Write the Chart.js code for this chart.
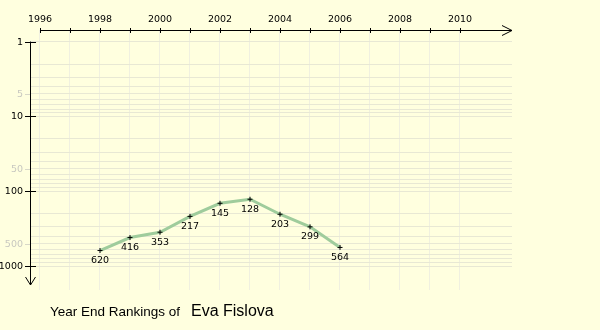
<!DOCTYPE html>
<html>
<head>
<meta charset="utf-8">
<script src="https://cdn.jsdelivr.net/npm/chart.js@4"></script>
<style>
  html, body { margin: 0; padding: 0; background: #ffffdf; }
  #wrap { width: 600px; height: 330px; }
</style>
</head>
<body>
<div id="wrap"><canvas id="rankChart" width="600" height="330"></canvas></div>
<script>
// year end rankings
const years = [1998, 1999, 2000, 2001, 2002, 2003, 2004, 2005, 2006];
const rankings = [620, 416, 353, 217, 145, 128, 203, 299, 564];

// axis ticks
const yearTicks = [1996, 1997, 1998, 1999, 2000, 2001, 2002, 2003, 2004, 2005, 2006, 2007, 2008, 2009, 2010];
const yearLabels = [1996, 1998, 2000, 2002, 2004, 2006, 2008, 2010];
const rankGrid = [1, 2, 3, 4, 5, 6, 7, 8, 9, 10, 20, 30, 40, 50, 60, 70, 80, 90,
  100, 200, 300, 400, 500, 600, 700, 800, 900, 1000];
const rankMajor = [1, 10, 100, 1000];
const rankMinor = [5, 50, 500];

const playerName = 'Eva Fislova';
const smallFont = '9.5px "DejaVu Sans"';

const axesPlugin = {
  id: 'arrowAxes',
  beforeDatasetsDraw(chart) {
    const ctx = chart.ctx;
    const xs = chart.scales.x;
    const ys = chart.scales.y;
    const area = chart.chartArea;
    const axisY = area.top;
    const axisX = area.left;
    ctx.save();
    ctx.strokeStyle = '#000';
    ctx.fillStyle = '#000';
    ctx.lineWidth = 1;

    // top x axis with arrow
    const x0 = xs.getPixelForValue(yearTicks[0]);
    ctx.beginPath();
    ctx.moveTo(x0, axisY + 0.5);
    ctx.lineTo(area.right, axisY + 0.5);
    ctx.moveTo(area.right - 10, axisY - 4.5);
    ctx.lineTo(area.right, axisY + 0.5);
    ctx.lineTo(area.right - 10, axisY + 5.5);
    ctx.stroke();
    yearTicks.forEach(v => {
      const px = Math.round(xs.getPixelForValue(v)) + 0.5;
      ctx.beginPath();
      ctx.moveTo(px, axisY - 2);
      ctx.lineTo(px, axisY + 3);
      ctx.stroke();
    });
    ctx.font = smallFont;
    ctx.textAlign = 'center';
    ctx.textBaseline = 'middle';
    yearLabels.forEach(v => {
      ctx.fillText(String(v), xs.getPixelForValue(v), axisY - 10);
    });

    // left y axis pointing down
    const y0 = ys.getPixelForValue(1);
    ctx.beginPath();
    ctx.moveTo(axisX + 0.5, y0);
    ctx.lineTo(axisX + 0.5, area.bottom - 5);
    ctx.moveTo(axisX - 4.5, area.bottom - 13);
    ctx.lineTo(axisX + 0.5, area.bottom - 5);
    ctx.lineTo(axisX + 5.5, area.bottom - 13);
    ctx.stroke();
    ctx.textAlign = 'right';
    rankMajor.forEach(v => {
      const py = Math.round(ys.getPixelForValue(v)) + 0.5;
      ctx.beginPath();
      ctx.moveTo(axisX - 5, py);
      ctx.lineTo(axisX + 6, py);
      ctx.stroke();
      ctx.fillStyle = '#000';
      ctx.fillText(String(v), axisX - 7, py);
    });
    ctx.strokeStyle = '#d8d8c8';
    rankMinor.forEach(v => {
      const py = Math.round(ys.getPixelForValue(v)) + 0.5;
      ctx.beginPath();
      ctx.moveTo(axisX - 5, py);
      ctx.lineTo(axisX, py);
      ctx.stroke();
      ctx.fillStyle = '#c8c8c0';
      ctx.fillText(String(v), axisX - 7, py);
    });
    ctx.restore();
  },
  afterDatasetsDraw(chart) {
    const ctx = chart.ctx;
    const meta = chart.getDatasetMeta(0);
    ctx.save();
    ctx.fillStyle = '#000';
    ctx.font = smallFont;
    ctx.textAlign = 'center';
    ctx.textBaseline = 'middle';
    meta.data.forEach((pt, i) => {
      ctx.fillText(String(rankings[i]), pt.x, pt.y + 10);
    });

    // caption under the chart
    ctx.textAlign = 'left';
    ctx.textBaseline = 'alphabetic';
    ctx.font = '13.5px "Liberation Sans"';
    ctx.fillText('Year End Rankings of', 50, 316);
    ctx.font = '16px "Liberation Sans"';
    ctx.fillText(playerName, 191, 316);
    ctx.restore();
  }
};

new Chart(document.getElementById('rankChart'), {
  type: 'line',
  data: {
    datasets: [{
      data: years.map((y, i) => ({ x: y, y: rankings[i] })),
      borderColor: '#9fcc9c',
      borderWidth: 3,
      pointStyle: 'cross',
      pointRadius: 2.5,
      pointBorderColor: '#000',
      pointBorderWidth: 1,
      pointBackgroundColor: '#000',
      tension: 0,
      fill: false
    }]
  },
  options: {
    responsive: false,
    animation: false,
    layout: { padding: { left: 30, top: 30, right: 88, bottom: 40 } },
    plugins: { legend: { display: false }, tooltip: { enabled: false } },
    scales: {
      x: {
        type: 'linear',
        min: 1996 - 1 / 3,
        max: 1996 + 472 / 30,
        afterBuildTicks: axis => { axis.ticks = yearTicks.map(v => ({ value: v })); },
        ticks: { display: false },
        border: { display: false },
        grid: { color: '#f0f0e0', drawTicks: false }
      },
      y: {
        type: 'logarithmic',
        reverse: true,
        min: Math.pow(10, -11 / 75),
        max: Math.pow(10, 249 / 75),
        afterBuildTicks: axis => { axis.ticks = rankGrid.map(v => ({ value: v })); },
        ticks: { display: false },
        border: { display: false },
        grid: { color: '#e8e8d4', drawTicks: false }
      }
    }
  },
  plugins: [axesPlugin]
});
</script>
</body>
</html>
